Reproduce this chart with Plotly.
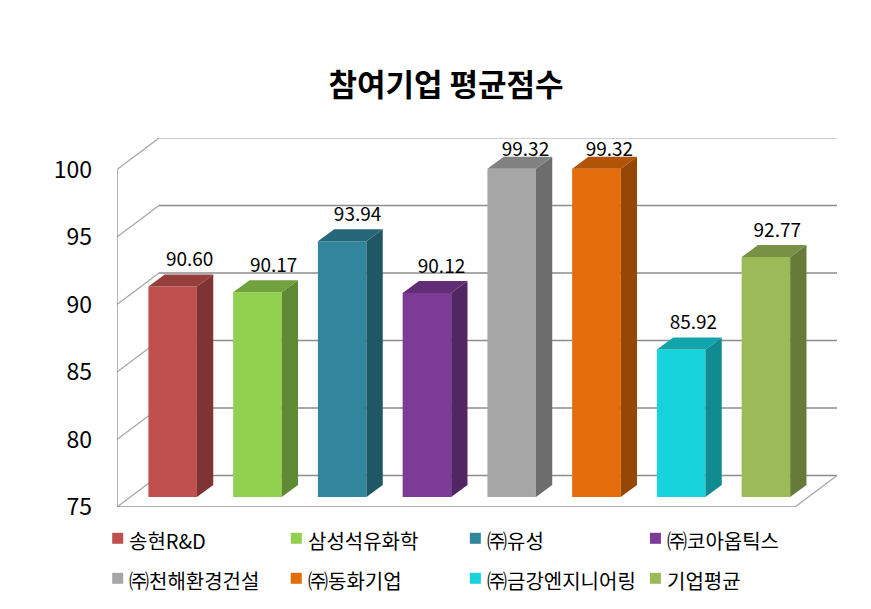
import plotly.graph_objects as go

companies = ["송현R&D", "삼성석유화학", "㈜유성", "㈜코아옵틱스", "㈜천해환경건설", "㈜동화기업", "㈜금강엔지니어링", "기업평균"]
scores = [90.60, 90.17, 93.94, 90.12, 99.32, 99.32, 85.92, 92.77]
colors = ["#C0504D", "#92D050", "#31859C", "#7D3A97", "#A6A6A6", "#E46C0A", "#17D3DC", "#9BBB59"]
y_ticks = [75, 80, 85, 90, 95, 100]

# pixel geometry of the 3D projection
PL, PR, PT, PB = 117.3, 837.0, 137.7, 506.7
UX = 84.7            # px per category
UY = 13.5            # px per score point
BACK_X = 42 / UX     # wall depth
BACK_Y = 31.5 / UY
BAR_W = 48.5 / UX
SHIFT_X = 13.3 / UX  # bars stand inside the floor
SHIFT_Y = 10 / UY
DEPTH_X = 16.3 / UX
DEPTH_Y = 12 / UY
X0, X1 = -0.5, 7.5
Y0 = y_ticks[0]
LABEL_CEILING = 101.35


def shade(hex_color, f):
    r, g, b = (int(hex_color[i:i + 2], 16) for i in (1, 3, 5))
    return f"rgb({int(r * f)},{int(g * f)},{int(b * f)})"


fig = go.Figure()

# front faces
fig.add_trace(go.Bar(
    x=[i + SHIFT_X for i in range(len(scores))],
    y=[v - Y0 for v in scores],
    base=Y0 + SHIFT_Y,
    width=BAR_W,
    marker=dict(color=colors, line=dict(width=0)),
    hoverinfo="skip",
    showlegend=False,
))

# side and top faces
for i, (v, c) in enumerate(zip(scores, colors)):
    xl = i + SHIFT_X - BAR_W / 2
    xr = i + SHIFT_X + BAR_W / 2
    yb = Y0 + SHIFT_Y
    yt = v + SHIFT_Y
    fig.add_trace(go.Scatter(
        x=[xr, xr + DEPTH_X, xr + DEPTH_X, xr, xr],
        y=[yb, yb + DEPTH_Y, yt + DEPTH_Y, yt, yb],
        mode="lines", fill="toself", fillcolor=shade(c, 0.66),
        line=dict(width=0), hoverinfo="skip", showlegend=False,
    ))
    fig.add_trace(go.Scatter(
        x=[xl, xl + DEPTH_X, xr + DEPTH_X, xr, xl],
        y=[yt, yt + DEPTH_Y, yt + DEPTH_Y, yt, yt],
        mode="lines", fill="toself", fillcolor=shade(c, 0.78),
        line=dict(width=0), hoverinfo="skip", showlegend=False,
    ))

# data labels
fig.add_trace(go.Scatter(
    x=[i + SHIFT_X + (17 - 0.8 * i) / UX for i in range(len(scores))],
    y=[min(v + SHIFT_Y + 25 / UY, LABEL_CEILING) for v in scores],
    text=[f"{v:.2f}" for v in scores],
    mode="text", textposition="middle center",
    textfont=dict(size=19, color="#000000", family="Noto Sans CJK KR"),
    cliponaxis=False, hoverinfo="skip", showlegend=False,
))

# walls, floor and gridlines below the bars
shapes = []
for t in y_ticks:
    col = "#BEBEBE" if t == y_ticks[-1] else "#8C8C8C"
    shapes.append(dict(type="line", layer="below", x0=X0, y0=t, x1=X0 + BACK_X, y1=t + BACK_Y,
                       line=dict(color="#A6A6A6", width=1.3)))
    shapes.append(dict(type="line", layer="below", x0=X0 + BACK_X, y0=t + BACK_Y, x1=X1 + BACK_X, y1=t + BACK_Y,
                       line=dict(color=col, width=1.3)))
shapes.append(dict(type="line", layer="below", x0=X0, y0=y_ticks[0], x1=X0, y1=y_ticks[-1],
                   line=dict(color="#8C8C8C", width=1.3)))
shapes.append(dict(type="line", layer="below", x0=X0, y0=Y0, x1=X1, y1=Y0,
                   line=dict(color="#969696", width=1.3)))
shapes.append(dict(type="line", layer="below", x0=X1, y0=Y0, x1=X1 + BACK_X, y1=Y0 + BACK_Y,
                   line=dict(color="#A6A6A6", width=1.3)))

# legend, two rows of four
annotations = []
col_px = [112.5, 291, 470, 650]
row_px = [538, 578]
for i, (name, c) in enumerate(zip(companies, colors)):
    px = col_px[i % 4]
    py = row_px[i // 4]
    shapes.append(dict(type="rect", xref="paper", yref="paper",
                       x0=(px - PL) / (PR - PL), x1=(px + 11 - PL) / (PR - PL),
                       y0=(PB - (py + 5.5)) / (PB - PT), y1=(PB - (py - 5.5)) / (PB - PT),
                       fillcolor=c, line=dict(width=0)))
    annotations.append(dict(xref="paper", yref="paper", xanchor="left", yanchor="middle",
                            x=(px + 16 - PL) / (PR - PL), y=(PB - (py + 2)) / (PB - PT),
                            text=name, showarrow=False, borderpad=0,
                            font=dict(size=20, color="#000000", family="Noto Sans CJK KR")))

fig.update_layout(
    width=871, height=609, autosize=False,
    margin=dict(l=PL, r=871 - PR, t=PT, b=609 - PB, pad=0),
    paper_bgcolor="white", plot_bgcolor="white",
    showlegend=False,
    title=dict(text="<b>참여기업 평균점수</b>", x=446 / 871, xanchor="center", y=1 - 85 / 609, yanchor="middle",
               font=dict(size=31, color="#000000", family="Noto Sans CJK KR")),
    xaxis=dict(range=[X0, X1 + BACK_X], visible=False, fixedrange=True),
    yaxis=dict(range=[Y0, y_ticks[-1] + BACK_Y], tickvals=y_ticks, showgrid=False, zeroline=False,
               showline=False, ticks="", ticklabelstandoff=24, fixedrange=True,
               tickfont=dict(size=23, color="#000000", family="Noto Sans CJK KR")),
    shapes=shapes, annotations=annotations,
)

fig.write_html("out.html", config={"displayModeBar": False},
               post_script="document.body.style.margin='0';")
